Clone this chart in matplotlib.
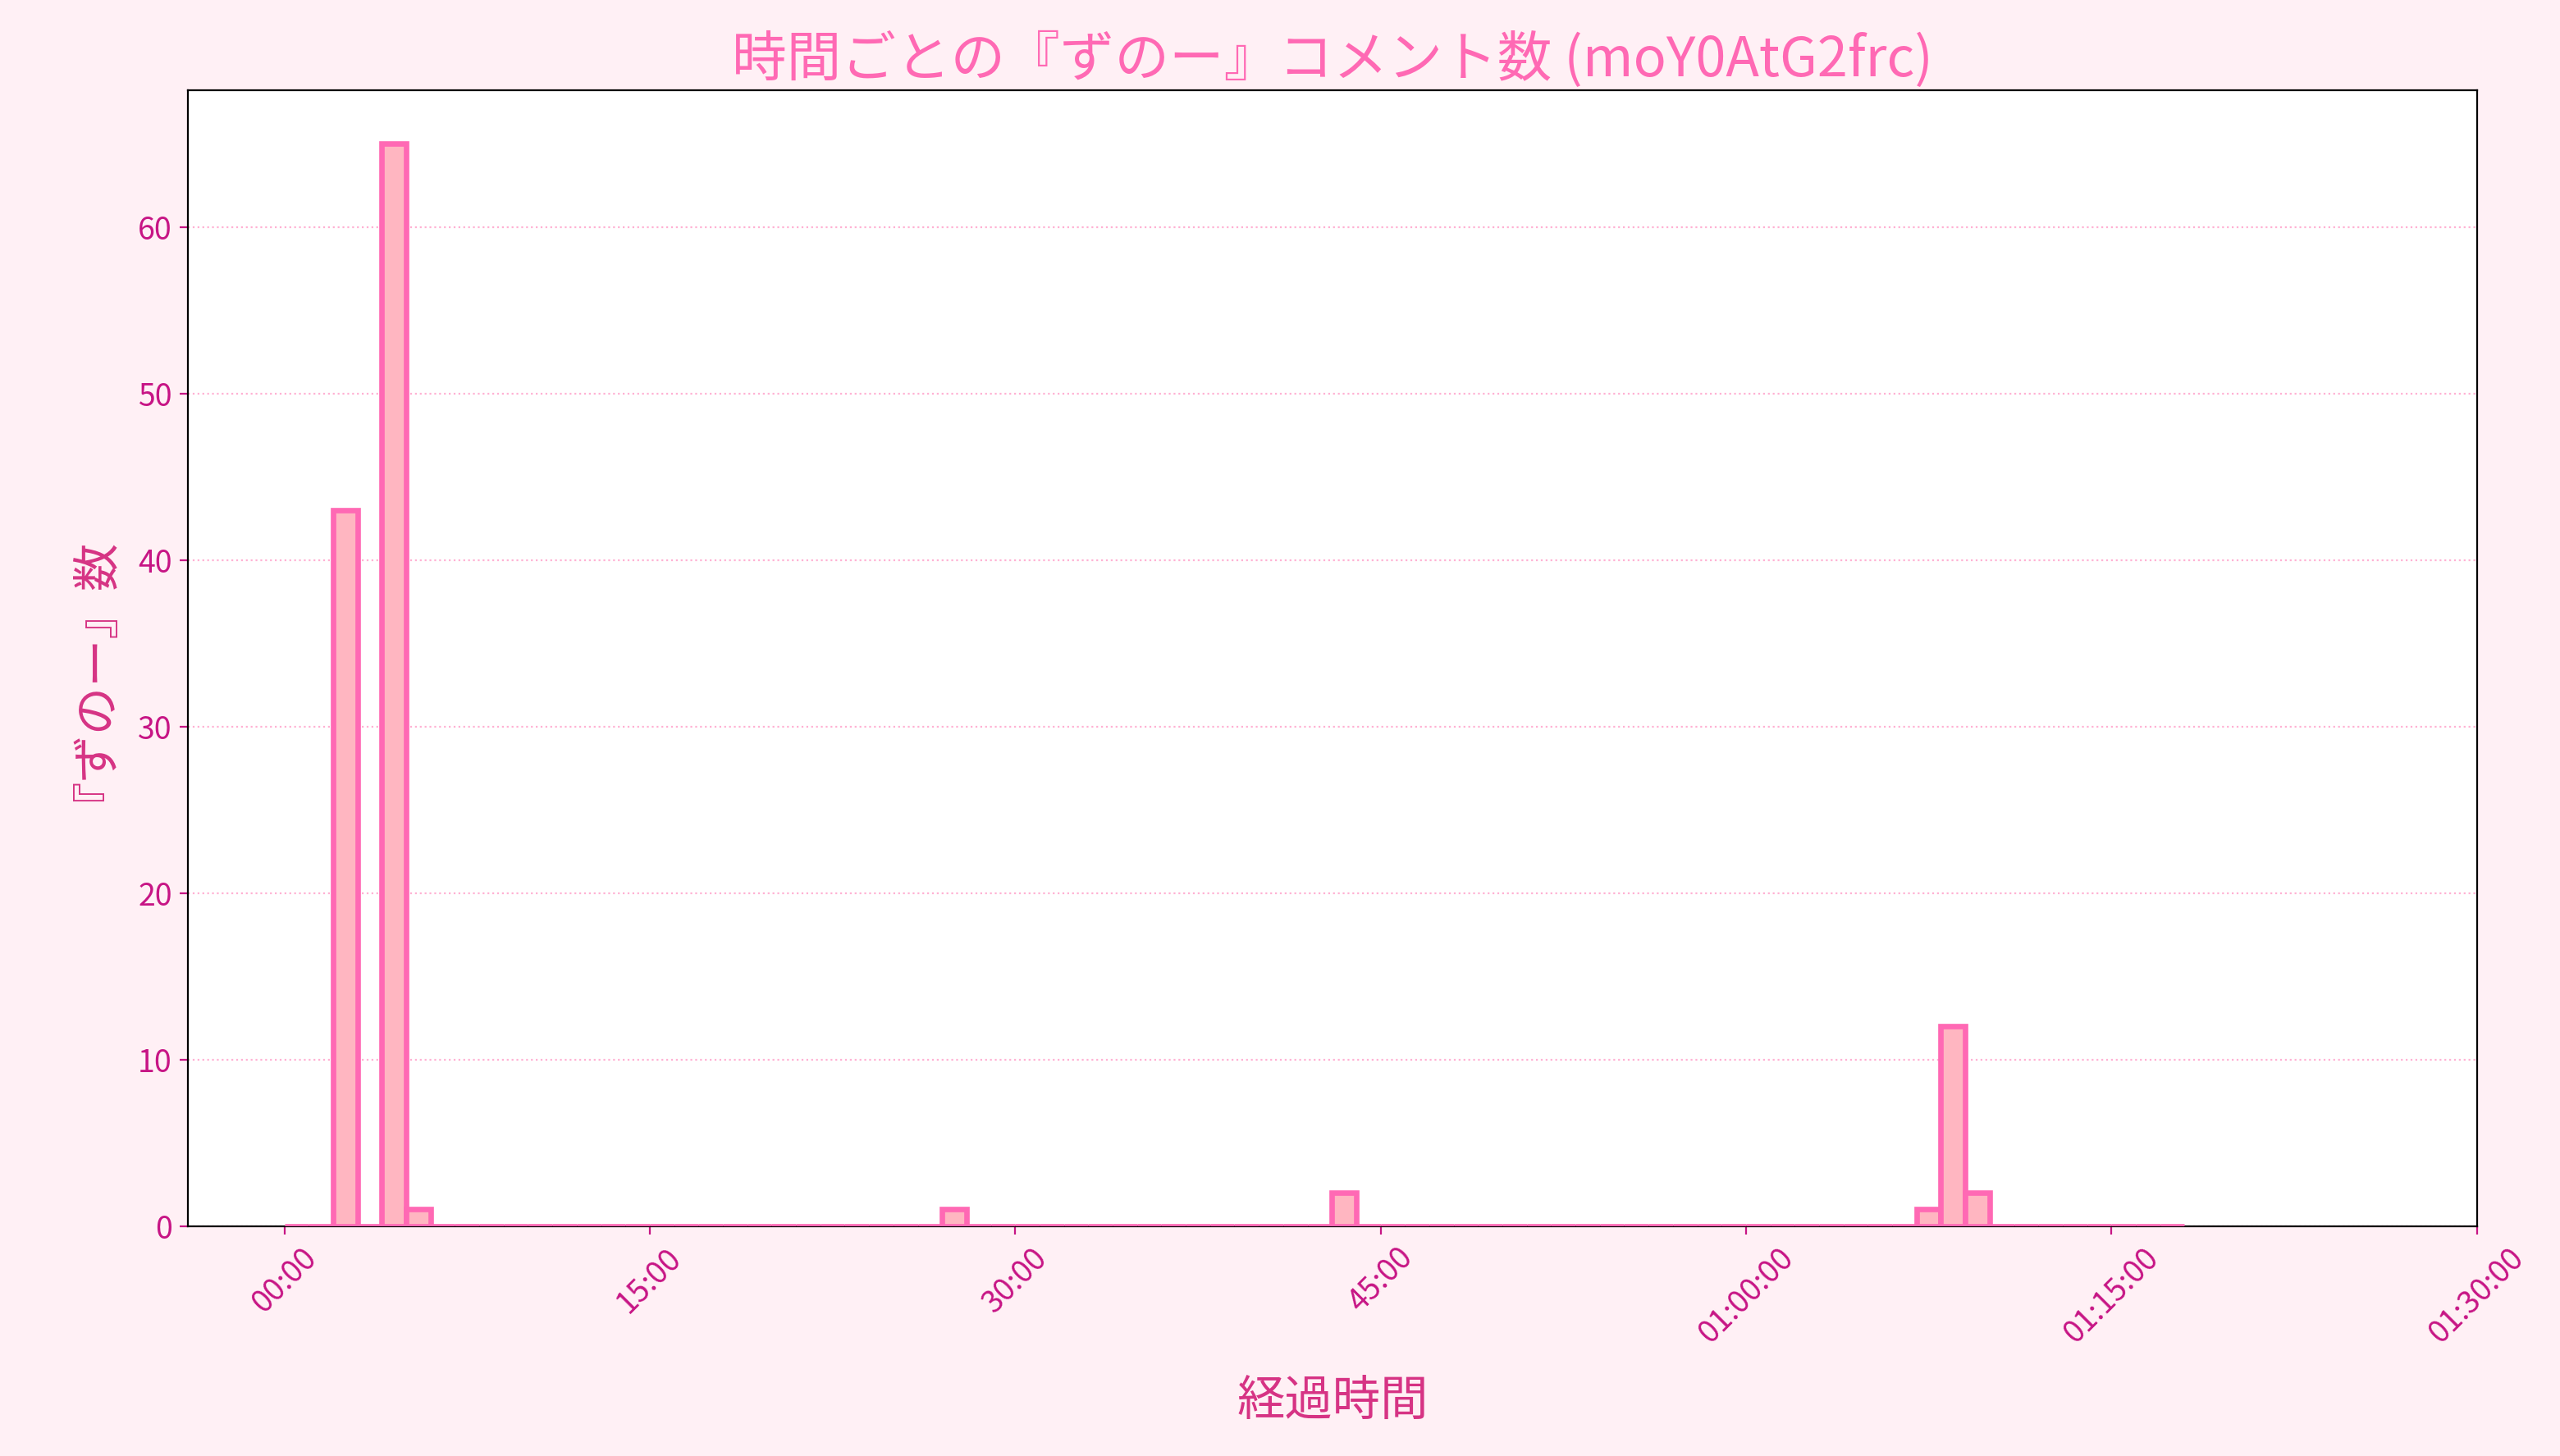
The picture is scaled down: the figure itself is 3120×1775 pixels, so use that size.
import matplotlib

matplotlib.use("Agg")
import matplotlib.pyplot as plt
from matplotlib.ticker import FuncFormatter, MultipleLocator

plt.rcParams["font.family"] = ["Noto Sans CJK JP", "DejaVu Sans"]

# 1-minute bins, start minute of each bin, and count of 『ずのー』 comments
BIN_START_MIN = list(range(0, 78))
COUNTS = [0] * 78
for m, c in {2: 43, 4: 65, 5: 1, 27: 1, 43: 2, 67: 1, 68: 12, 69: 2}.items():
    COUNTS[m] = c

TITLE = "時間ごとの『ずのー』コメント数 (moY0AtG2frc)"
XLABEL = "経過時間"
YLABEL = "『ずのー』数"


def fmt_time(x, pos):
    s = int(round(x * 60))
    h, rem = divmod(s, 3600)
    m, sec = divmod(rem, 60)
    if h:
        return f"{h:02d}:{m:02d}:{sec:02d}"
    return f"{m:02d}:{sec:02d}"


fig = plt.figure(figsize=(15.6, 8.875), dpi=200, facecolor="#fff0f5")
ax = fig.add_axes([0.0735, 0.158, 0.894, 0.78])
ax.bar(BIN_START_MIN, COUNTS, width=1, align="edge",
       color="#ffb6c1", edgecolor="#ff69b4", linewidth=2.4, zorder=3)
ax.set_xlim(-3.95, 90)
ax.set_ylim(0, 68.2)
ax.xaxis.set_major_locator(MultipleLocator(15))
ax.xaxis.set_major_formatter(FuncFormatter(fmt_time))
ax.tick_params(axis="x", rotation=45, labelsize=13.5, colors="#c71585")
ax.tick_params(axis="y", labelsize=13.5, colors="#c71585")
ax.grid(axis="y", linestyle=":", color="#ff9ec8", alpha=0.8, zorder=0)
ax.set_title(TITLE, fontsize=24, color="#ff69b4", pad=6)
ax.set_xlabel(XLABEL, fontsize=21, color="#d63384", labelpad=12)
ax.set_ylabel(YLABEL, fontsize=21, color="#d63384", labelpad=18)
fig.savefig("out.png", dpi=200, facecolor=fig.get_facecolor())
